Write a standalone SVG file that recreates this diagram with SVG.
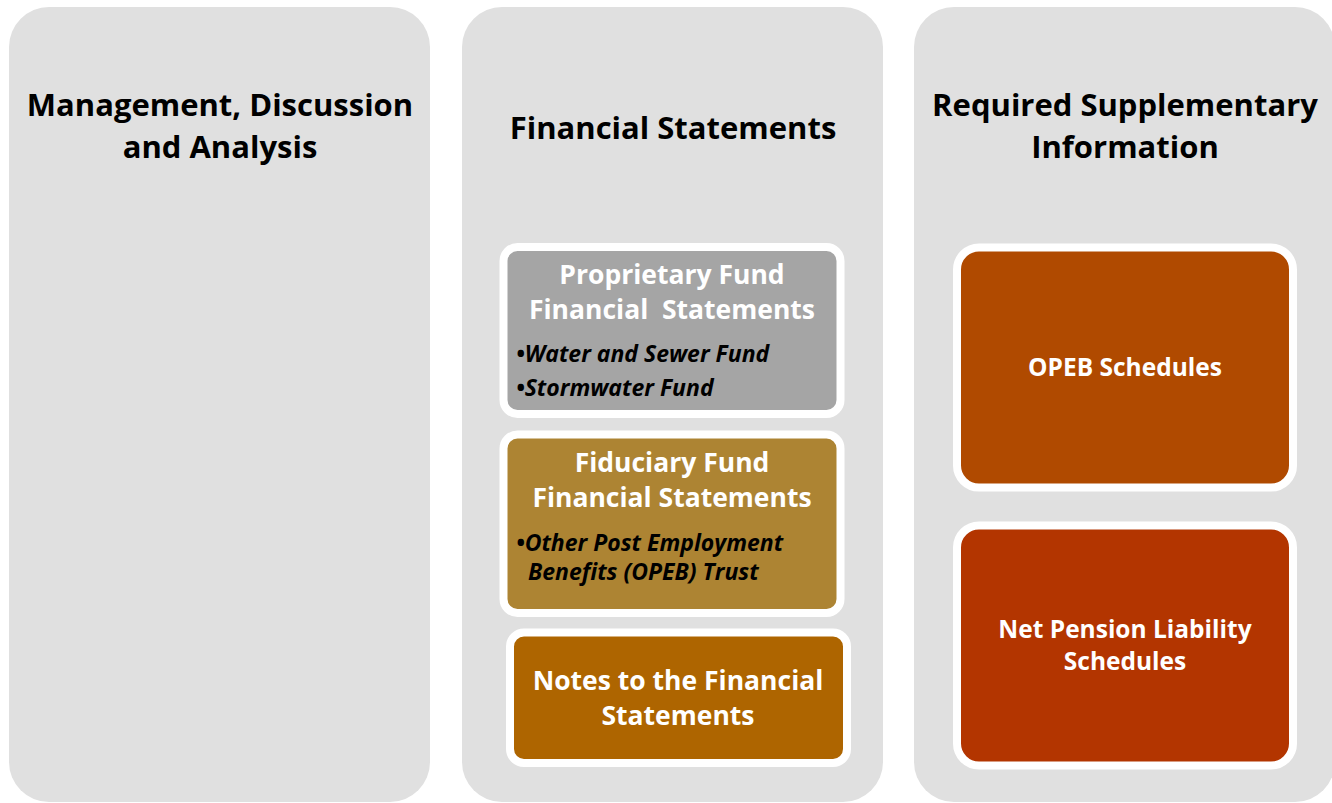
<svg xmlns="http://www.w3.org/2000/svg" width="1332" height="803" viewBox="0 0 1332 803">
  <style>
    .panel { fill: #e0e0e0; }
    .box { stroke: #ffffff; stroke-width: 8; }
    .head { font-family: "Open Sans", "Liberation Sans", sans-serif; font-weight: 700; font-size: 31px; fill: #000000; text-anchor: middle; }
    .title { font-family: "Open Sans", "Liberation Sans", sans-serif; font-weight: 700; font-size: 26.5px; fill: #ffffff; text-anchor: middle; }
    .title-sm { font-family: "Open Sans", "Liberation Sans", sans-serif; font-weight: 700; font-size: 24.5px; fill: #ffffff; text-anchor: middle; }
    .item { font-family: "Open Sans", "Liberation Sans", sans-serif; font-weight: 700; font-style: italic; font-size: 23px; fill: #000000; }
  </style>
  <rect width="1332" height="803" fill="#ffffff"/>

  <!-- Column 1 -->
  <g id="mdna">
    <rect class="panel" x="9" y="7" width="421" height="795" rx="40"/>
    <text class="head" x="220" y="116">Management, Discussion</text>
    <text class="head" x="220" y="158">and Analysis</text>
  </g>

  <!-- Column 2 -->
  <g id="financial-statements">
    <rect class="panel" x="462" y="7" width="421" height="795" rx="40"/>
    <text class="head" x="673" y="139">Financial Statements</text>
  </g>

  <g id="proprietary">
    <rect class="box" x="503.5" y="247" width="337" height="167" rx="14" fill="#a5a5a5"/>
    <text class="title" x="672" y="284">Proprietary Fund</text>
    <text class="title" x="672" y="319" xml:space="preserve">Financial  Statements</text>
    <text class="item" x="516" y="362">•Water and Sewer Fund</text>
    <text class="item" x="516" y="396">•Stormwater Fund</text>
  </g>

  <g id="fiduciary">
    <rect class="box" x="503.5" y="434.5" width="337" height="178.5" rx="14" fill="#ad8433"/>
    <text class="title" x="672" y="472">Fiduciary Fund</text>
    <text class="title" x="672" y="507">Financial Statements</text>
    <text class="item" x="516" y="551">•Other Post Employment</text>
    <text class="item" x="528" y="580">Benefits (OPEB) Trust</text>
  </g>

  <g id="notes">
    <rect class="box" x="510" y="632.5" width="337" height="130.5" rx="14" fill="#ae6500"/>
    <text class="title" x="678" y="690">Notes to the Financial</text>
    <text class="title" x="678" y="725">Statements</text>
  </g>

  <!-- Column 3 -->
  <g id="rsi">
    <rect class="panel" x="914" y="7" width="421" height="795" rx="40"/>
    <text class="head" x="1125" y="116">Required Supplementary</text>
    <text class="head" x="1125" y="158">Information</text>
  </g>

  <g id="opeb-schedules">
    <rect class="box" x="957" y="247.5" width="336" height="240" rx="22" fill="#b04a00"/>
    <text class="title-sm" x="1125" y="376">OPEB Schedules</text>
  </g>

  <g id="net-pension">
    <rect class="box" x="957" y="525.5" width="336" height="240" rx="22" fill="#b33500"/>
    <text class="title-sm" x="1125" y="638">Net Pension Liability</text>
    <text class="title-sm" x="1125" y="670">Schedules</text>
  </g>

  <g id="connectors"/>
</svg>
